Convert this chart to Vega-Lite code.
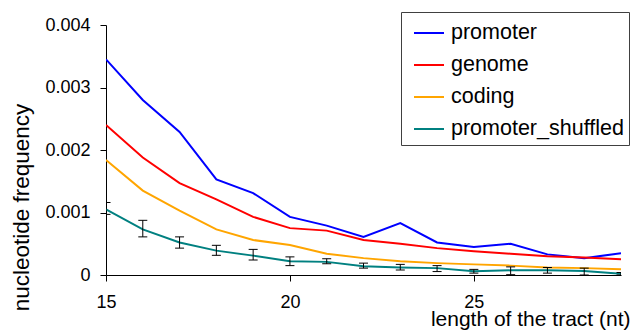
{
  "$schema": "https://vega.github.io/schema/vega-lite/v6.json",
  "width": 515,
  "height": 250,
  "autosize": {"type": "none"},
  "padding": {"left": 106, "top": 25, "right": 11, "bottom": 60},
  "background": "white",
  "datasets": {
    "lines": [
      {"len": 15, "series": "promoter", "freq": 0.00345},
      {"len": 16, "series": "promoter", "freq": 0.00280},
      {"len": 17, "series": "promoter", "freq": 0.00229},
      {"len": 18, "series": "promoter", "freq": 0.00153},
      {"len": 19, "series": "promoter", "freq": 0.00131},
      {"len": 20, "series": "promoter", "freq": 0.00093},
      {"len": 21, "series": "promoter", "freq": 0.00079},
      {"len": 22, "series": "promoter", "freq": 0.00061},
      {"len": 23, "series": "promoter", "freq": 0.00083},
      {"len": 24, "series": "promoter", "freq": 0.00052},
      {"len": 25, "series": "promoter", "freq": 0.00045},
      {"len": 26, "series": "promoter", "freq": 0.00050},
      {"len": 27, "series": "promoter", "freq": 0.00033},
      {"len": 28, "series": "promoter", "freq": 0.00027},
      {"len": 29, "series": "promoter", "freq": 0.00035},
      {"len": 15, "series": "genome", "freq": 0.00240},
      {"len": 16, "series": "genome", "freq": 0.00188},
      {"len": 17, "series": "genome", "freq": 0.00147},
      {"len": 18, "series": "genome", "freq": 0.00121},
      {"len": 19, "series": "genome", "freq": 0.00093},
      {"len": 20, "series": "genome", "freq": 0.00075},
      {"len": 21, "series": "genome", "freq": 0.00071},
      {"len": 22, "series": "genome", "freq": 0.00056},
      {"len": 23, "series": "genome", "freq": 0.00050},
      {"len": 24, "series": "genome", "freq": 0.00043},
      {"len": 25, "series": "genome", "freq": 0.00038},
      {"len": 26, "series": "genome", "freq": 0.00034},
      {"len": 27, "series": "genome", "freq": 0.00030},
      {"len": 28, "series": "genome", "freq": 0.00028},
      {"len": 29, "series": "genome", "freq": 0.00025},
      {"len": 15, "series": "coding", "freq": 0.00184},
      {"len": 16, "series": "coding", "freq": 0.00135},
      {"len": 17, "series": "coding", "freq": 0.00103},
      {"len": 18, "series": "coding", "freq": 0.00073},
      {"len": 19, "series": "coding", "freq": 0.00056},
      {"len": 20, "series": "coding", "freq": 0.00048},
      {"len": 21, "series": "coding", "freq": 0.00034},
      {"len": 22, "series": "coding", "freq": 0.00027},
      {"len": 23, "series": "coding", "freq": 0.00022},
      {"len": 24, "series": "coding", "freq": 0.00019},
      {"len": 25, "series": "coding", "freq": 0.00017},
      {"len": 26, "series": "coding", "freq": 0.00015},
      {"len": 27, "series": "coding", "freq": 0.00012},
      {"len": 28, "series": "coding", "freq": 0.00011},
      {"len": 29, "series": "coding", "freq": 0.00009},
      {"len": 15, "series": "promoter_shuffled", "freq": 0.00105},
      {"len": 16, "series": "promoter_shuffled", "freq": 0.00073},
      {"len": 17, "series": "promoter_shuffled", "freq": 0.00052},
      {"len": 18, "series": "promoter_shuffled", "freq": 0.00039},
      {"len": 19, "series": "promoter_shuffled", "freq": 0.00031},
      {"len": 20, "series": "promoter_shuffled", "freq": 0.00022},
      {"len": 21, "series": "promoter_shuffled", "freq": 0.00021},
      {"len": 22, "series": "promoter_shuffled", "freq": 0.00014},
      {"len": 23, "series": "promoter_shuffled", "freq": 0.00012},
      {"len": 24, "series": "promoter_shuffled", "freq": 0.00011},
      {"len": 25, "series": "promoter_shuffled", "freq": 0.00006},
      {"len": 26, "series": "promoter_shuffled", "freq": 0.000075},
      {"len": 27, "series": "promoter_shuffled", "freq": 0.000075},
      {"len": 28, "series": "promoter_shuffled", "freq": 0.000065},
      {"len": 29, "series": "promoter_shuffled", "freq": 0.00002}
    ],
    "errors": [
      {"len": 15, "lo": 0.00097, "hi": 0.00116},
      {"len": 16, "lo": 0.00061, "hi": 0.000875},
      {"len": 17, "lo": 0.00043, "hi": 0.00061},
      {"len": 18, "lo": 0.000315, "hi": 0.000475},
      {"len": 19, "lo": 0.00024, "hi": 0.00041},
      {"len": 20, "lo": 0.00015, "hi": 0.00029},
      {"len": 21, "lo": 0.00018, "hi": 0.00026},
      {"len": 22, "lo": 0.00011, "hi": 0.00019},
      {"len": 23, "lo": 0.00008, "hi": 0.00017},
      {"len": 24, "lo": 0.000055, "hi": 0.00015},
      {"len": 25, "lo": 0.00003, "hi": 0.00009},
      {"len": 26, "lo": 0.000005, "hi": 0.00013},
      {"len": 27, "lo": 0.00003, "hi": 0.00012},
      {"len": 28, "lo": 0.0, "hi": 0.00011},
      {"len": 29, "lo": 0.0, "hi": 0.00004}
    ]
  },
  "config": {
    "font": "Liberation Sans",
    "view": {"stroke": null},
    "axis": {
      "grid": false,
      "domainColor": "#000000",
      "domainWidth": 1,
      "tickColor": "#000000",
      "tickWidth": 1,
      "tickSize": 6,
      "labelColor": "#000000",
      "titleColor": "#000000",
      "labelFont": "Liberation Sans",
      "titleFont": "Liberation Sans",
      "labelFontSize": 18,
      "titleFontWeight": "normal"
    }
  },
  "layer": [
    {
      "data": {"name": "lines"},
      "mark": {"type": "line", "strokeWidth": 2, "clip": true},
      "encoding": {
        "x": {
          "field": "len",
          "type": "quantitative",
          "scale": {"domain": [15, 29], "nice": false, "zero": false},
          "axis": {
            "values": [15, 20, 25],
            "title": "length of the tract (nt)",
            "titleFontSize": 21,
            "titleAlign": "right",
            "titleBaseline": "alphabetic",
            "titleX": 524,
            "titleY": 50,
            "labelBaseline": "alphabetic",
            "labelPadding": 26,
            "labelFlush": false
          }
        },
        "y": {
          "field": "freq",
          "type": "quantitative",
          "scale": {"domain": [0, 0.004], "nice": false},
          "axis": {
            "values": [0, 0.001, 0.002, 0.003, 0.004],
            "format": ".3~f",
            "title": "nucleotide frequency",
            "titleFontSize": 22.5,
            "titleAngle": -90,
            "titleAlign": "center",
            "titleBaseline": "alphabetic",
            "titleX": -77.5,
            "titleY": 182,
            "labelPadding": 10,
            "labelBaseline": "middle",
            "labelFlush": false
          }
        },
        "color": {
          "field": "series",
          "type": "nominal",
          "sort": ["promoter", "genome", "coding", "promoter_shuffled"],
          "scale": {
            "domain": ["promoter", "genome", "coding", "promoter_shuffled"],
            "range": ["#0000FF", "#FF0000", "#FFA500", "#008080"]
          },
          "legend": {
            "title": null,
            "orient": "none",
            "legendX": 295,
            "legendY": -13,
            "padding": 5,
            "symbolOffset": 7,
            "strokeColor": "#404040",
            "fillColor": "white",
            "symbolType": "stroke",
            "symbolSize": 900,
            "symbolStrokeWidth": 2,
            "labelFontSize": 21.5,
            "labelFont": "Liberation Sans",
            "labelColor": "#000000",
            "labelOffset": 6,
            "labelLimit": 400,
            "rowPadding": 5
          }
        }
      }
    },
    {
      "data": {"name": "errors"},
      "mark": {"type": "rule", "color": "#000000", "strokeWidth": 1, "clip": true},
      "encoding": {
        "x": {"field": "len", "type": "quantitative"},
        "y": {"field": "lo", "type": "quantitative"},
        "y2": {"field": "hi"}
      }
    },
    {
      "data": {"name": "errors"},
      "mark": {"type": "tick", "orient": "horizontal", "color": "#000000", "size": 9, "thickness": 1, "opacity": 1, "clip": true},
      "encoding": {
        "x": {"field": "len", "type": "quantitative"},
        "y": {"field": "lo", "type": "quantitative"}
      }
    },
    {
      "data": {"name": "errors"},
      "mark": {"type": "tick", "orient": "horizontal", "color": "#000000", "size": 9, "thickness": 1, "opacity": 1, "clip": true},
      "encoding": {
        "x": {"field": "len", "type": "quantitative"},
        "y": {"field": "hi", "type": "quantitative"}
      }
    }
  ]
}
